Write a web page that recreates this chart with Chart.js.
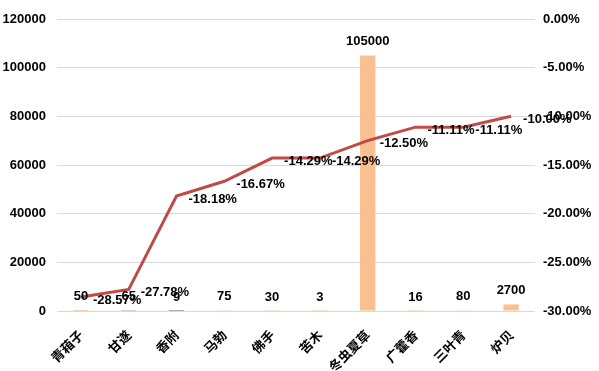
<!DOCTYPE html>
<html lang="zh">
<head>
    <meta charset="UTF-8">
    <title>药材价格与涨跌幅</title>
    <script src="https://cdn.jsdelivr.net/npm/chart.js"></script>
    <style>
        body { margin: 0; background: #fff; }
    </style>
</head>
<body>
    <canvas id="chart" width="599" height="371"></canvas>

    <script>
        const categories = ['青葙子', '甘遂', '香附', '马勃', '佛手', '苦木', '冬虫夏草', '广藿香', '三叶青', '炉贝'];
        const counts = [50, 65, 9, 75, 30, 3, 105000, 16, 80, 2700];
        const changes = [-28.57, -27.78, -18.18, -16.67, -14.29, -14.29, -12.50, -11.11, -11.11, -10.00];
        const barColors = ['#ED7D31', '#4A8F9A', '#44546A', '#FAC090', '#FAC090',
                           '#FAC090', '#FAC090', '#FAC090', '#FAC090', '#FAC090'];

        const labelFont = 'bold 13px "Liberation Sans", Arial, sans-serif';

        // draws the value labels the way the spreadsheet does
        const valueLabels = {
            id: 'valueLabels',
            afterDatasetsDraw(chart) {
                const ctx = chart.ctx;
                ctx.save();
                ctx.font = labelFont;
                ctx.fillStyle = '#000';
                ctx.textBaseline = 'middle';
                ctx.textAlign = 'left';
                chart.getDatasetMeta(1).data.forEach((pt, i) => {
                    ctx.fillText(changes[i].toFixed(2) + '%', pt.x + 12, pt.y + 3);
                });
                ctx.textAlign = 'center';
                chart.getDatasetMeta(0).data.forEach((bar, i) => {
                    ctx.fillText(String(counts[i]), bar.x, bar.y - 14);
                });
                ctx.restore();
            }
        };

        const tickFont = { family: '"Liberation Sans", Arial, sans-serif', size: 13, weight: 'bold' };

        new Chart(document.getElementById('chart').getContext('2d'), {
            data: {
                labels: categories,
                datasets: [{
                    type: 'bar',
                    data: counts,
                    backgroundColor: barColors,
                    yAxisID: 'y',
                    order: 1,
                    categoryPercentage: 1,
                    barPercentage: 0.32
                }, {
                    type: 'line',
                    data: changes,
                    borderColor: '#BE4B48',
                    borderWidth: 3,
                    pointRadius: 0,
                    tension: 0,
                    yAxisID: 'y1',
                    order: 0
                }]
            },
            options: {
                responsive: false,
                animation: false,
                layout: { padding: { top: 19, left: 0, right: 0, bottom: 0 } },
                plugins: {
                    legend: { display: false },
                    tooltip: { enabled: false }
                },
                scales: {
                    x: {
                        grid: { display: false },
                        border: { display: false },
                        ticks: {
                            color: '#000',
                            font: { family: '"Noto Sans CJK SC", sans-serif', size: 13, weight: 'bold' },
                            maxRotation: 45,
                            minRotation: 45,
                            autoSkip: false,
                            padding: 8
                        },
                        afterFit(scale) { scale.height = 60; }
                    },
                    y: {
                        position: 'left',
                        min: 0,
                        max: 120000,
                        ticks: {
                            stepSize: 20000,
                            color: '#000',
                            font: tickFont,
                            padding: 11,
                            callback: v => String(v)
                        },
                        grid: { color: '#D9D9D9', drawTicks: false },
                        border: { display: false },
                        afterFit(scale) { scale.width = 57; }
                    },
                    y1: {
                        position: 'right',
                        min: -30,
                        max: 0,
                        ticks: {
                            stepSize: 5,
                            color: '#000',
                            font: tickFont,
                            padding: 8,
                            callback: v => v.toFixed(2) + '%'
                        },
                        grid: { display: false, drawTicks: false },
                        border: { display: false },
                        afterFit(scale) { scale.width = 64; }
                    }
                }
            },
            plugins: [valueLabels]
        });
    </script>
</body>
</html>
